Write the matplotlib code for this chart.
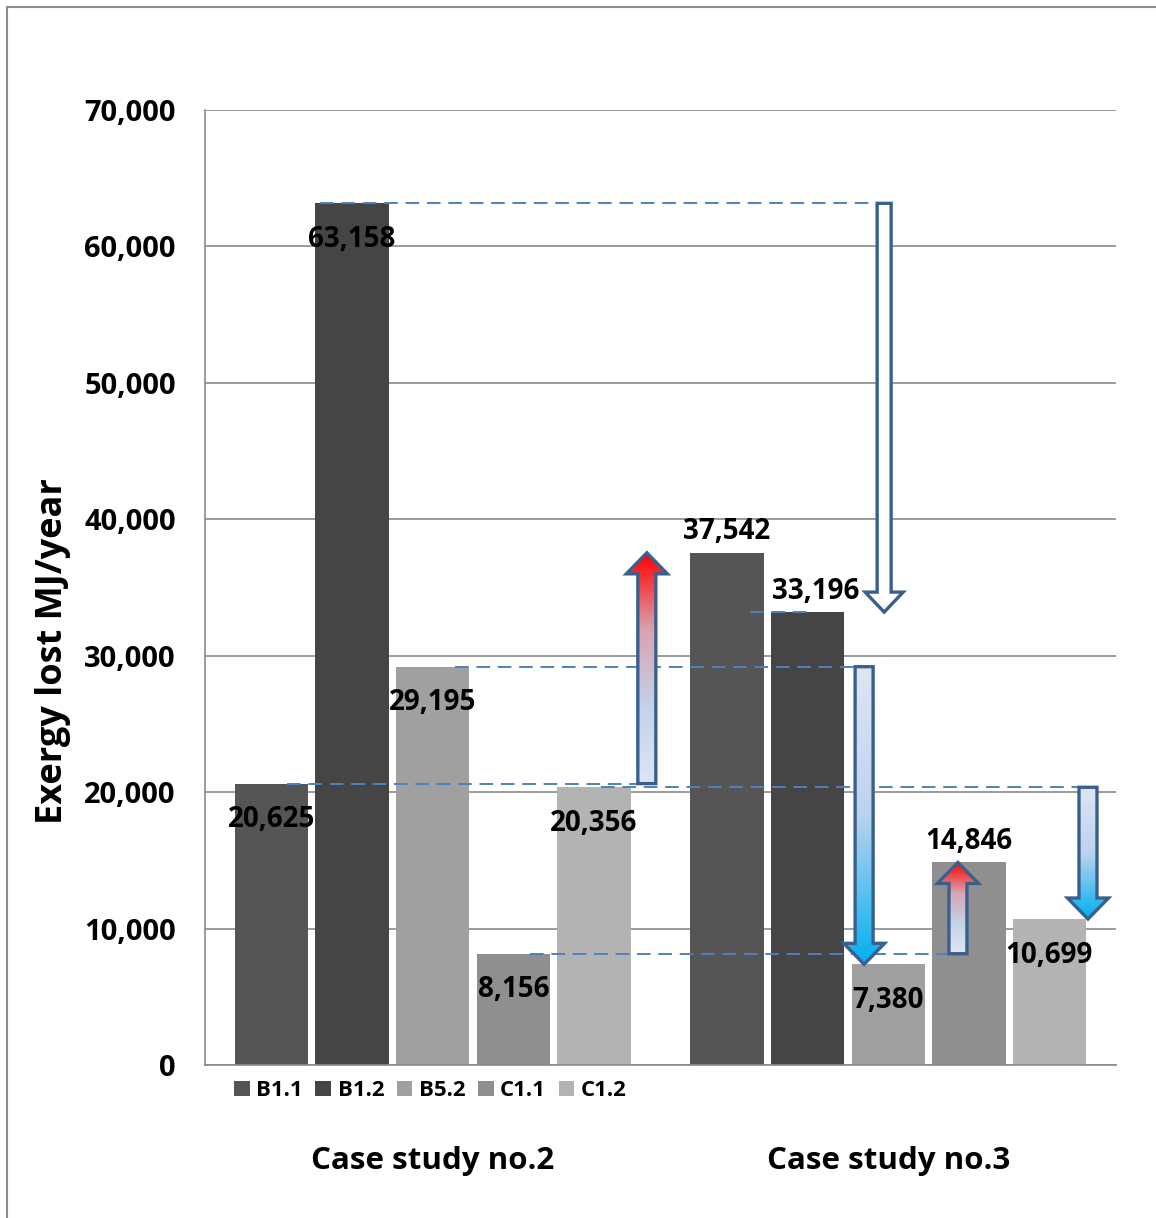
import numpy as np
import matplotlib
matplotlib.use("Agg")
import matplotlib.pyplot as plt
from matplotlib.patches import Polygon, Rectangle
from matplotlib.colors import LinearSegmentedColormap

plt.rcParams['font.family'] = ['Open Sans', 'DejaVu Sans']
plt.rcParams['font.weight'] = 'bold'

cases = ['Case study no.2', 'Case study no.3']
series = ['B1.1', 'B1.2', 'B5.2', 'C1.1', 'C1.2']
case2 = [20625, 63158, 29195, 8156, 20356]
case3 = [37542, 33196, 7380, 14846, 10699]
colors = ['#555555', '#454545', '#a0a0a0', '#8f8f8f', '#b3b3b3']

# where each value label sits: 'in' = just under the bar top, 'out' = above it
case2_pos = ['in', 'in', 'in', 'in', 'in']
case3_pos = ['out', 'out', 'in', 'out', 'in']

# connector lines: (value, x start, x end)
guides = [(63158, -0.248, 0.985),
          (29195, 0.049, 0.934),
          (20625, -0.320, 0.488),
          (20356, 0.370, 1.432),
          (33196, 0.697, 0.828),
          (8156, 0.214, 1.158)]

# block arrows: (x, from value, to value, fill)
arrows = [(0.991, 63158, 33196, 'hollow'),
          (0.470, 20625, 37542, 'up'),
          (0.947, 29195, 7380, 'down'),
          (1.153, 8156, 14846, 'up'),
          (1.4385, 20356, 10699, 'down')]

fig = plt.figure(figsize=(11.56, 12.18), dpi=100)
ax = fig.add_axes([205 / 1156, 1 - 1065 / 1218, 911 / 1156, 955 / 1218])

step = 0.177
width = 0.161
x = np.arange(len(cases))
for i, name in enumerate(series):
    xs = x + (i - 2) * step
    vals = [case2[i], case3[i]]
    ax.bar(xs, vals, width, color=colors[i], label=name, zorder=2)
    for xv, v, pos in zip(xs, vals, [case2_pos[i], case3_pos[i]]):
        dx = 0
        if v == 33196:
            dx = 6
        off = -26 if pos == 'in' else 15
        ax.annotate(f'{v:,}', (xv, v), xytext=(dx, off), textcoords='offset points',
                    ha='center', va='center', fontsize=20, fontweight='bold', zorder=6)

for v, x0, x1 in guides:
    ax.plot([x0, x1], [v, v], color='#4f81bd', lw=1.4, dashes=(7, 4), zorder=3)

up_cmap = LinearSegmentedColormap.from_list('up', ['#dde6f3', '#c3d3ea', '#d9a3b0', '#ff0000'])
down_cmap = LinearSegmentedColormap.from_list('down', ['#dde6f3', '#bcd2ee', '#00b0f0'])

px_x = 1 / 455.5
px_y = 70000 / 955


def block_arrow(xc, y0, y1, shaft, head, head_len, kind):
    d = np.sign(y1 - y0)
    yb = y1 - d * head_len
    pts = [(xc - shaft / 2, y0), (xc + shaft / 2, y0), (xc + shaft / 2, yb),
           (xc + head / 2, yb), (xc, y1), (xc - head / 2, yb), (xc - shaft / 2, yb)]
    fc = 'white' if kind == 'hollow' else 'none'
    poly = Polygon(pts, closed=True, fc=fc, ec='#3b5f8c', lw=2.4, joinstyle='miter', zorder=5)
    ax.add_patch(poly)
    if kind != 'hollow':
        grad = np.linspace(0, 1, 256).reshape(-1, 1)
        if kind == 'down':
            grad = grad[::-1]
        cmap = up_cmap if kind == 'up' else down_cmap
        lo, hi = min(y0, y1), max(y0, y1)
        im = ax.imshow(grad, cmap=cmap, origin='lower', aspect='auto',
                       extent=(xc - head / 2, xc + head / 2, lo, hi), zorder=4)
        im.set_clip_path(poly)


for xc, v0, v1, kind in arrows:
    if kind == 'hollow':
        block_arrow(xc, v0, v1, 14 * px_x, 38 * px_x, 20 * px_y, kind)
    else:
        block_arrow(xc, v0, v1, 18 * px_x, 41 * px_x, 21 * px_y, kind)

ax.set_xlim(-0.5, 1.5)
ax.set_ylim(0, 70000)
ax.set_yticks(np.arange(0, 70001, 10000))
ax.set_yticklabels([f'{t:,}' for t in range(0, 70001, 10000)])
ax.set_xticks(x)
ax.set_xticklabels(cases, fontsize=22.5, fontweight='bold')
ax.tick_params(axis='x', length=0, pad=58)
ax.tick_params(axis='y', length=0, pad=21, labelsize=21)
ax.grid(axis='y', color='#8a8a8a', lw=1.2, zorder=0)
ax.set_axisbelow(True)
for s in ['top', 'right']:
    ax.spines[s].set_visible(False)
for s in ['left', 'bottom']:
    ax.spines[s].set_color('#8a8a8a')
    ax.spines[s].set_linewidth(1.2)

ax.set_ylabel('Exergy lost MJ/year', fontsize=26, fontweight='bold')
ax.yaxis.set_label_coords(-0.147, 0.4335)

ax.legend(loc='center left', bbox_to_anchor=(0.010, -0.027), ncol=5, frameon=False,
          handlelength=0.7, handleheight=0.7, handletextpad=0.3, columnspacing=0.56,
          prop={'size': 16, 'weight': 'bold'})

fig.add_artist(Rectangle((7 / 1156, -0.05), 1.2, 1.05 - 7 / 1218, transform=fig.transFigure,
                         fill=False, ec='#8c8c8c', lw=1.5))

fig.savefig('out.png', dpi=100)
